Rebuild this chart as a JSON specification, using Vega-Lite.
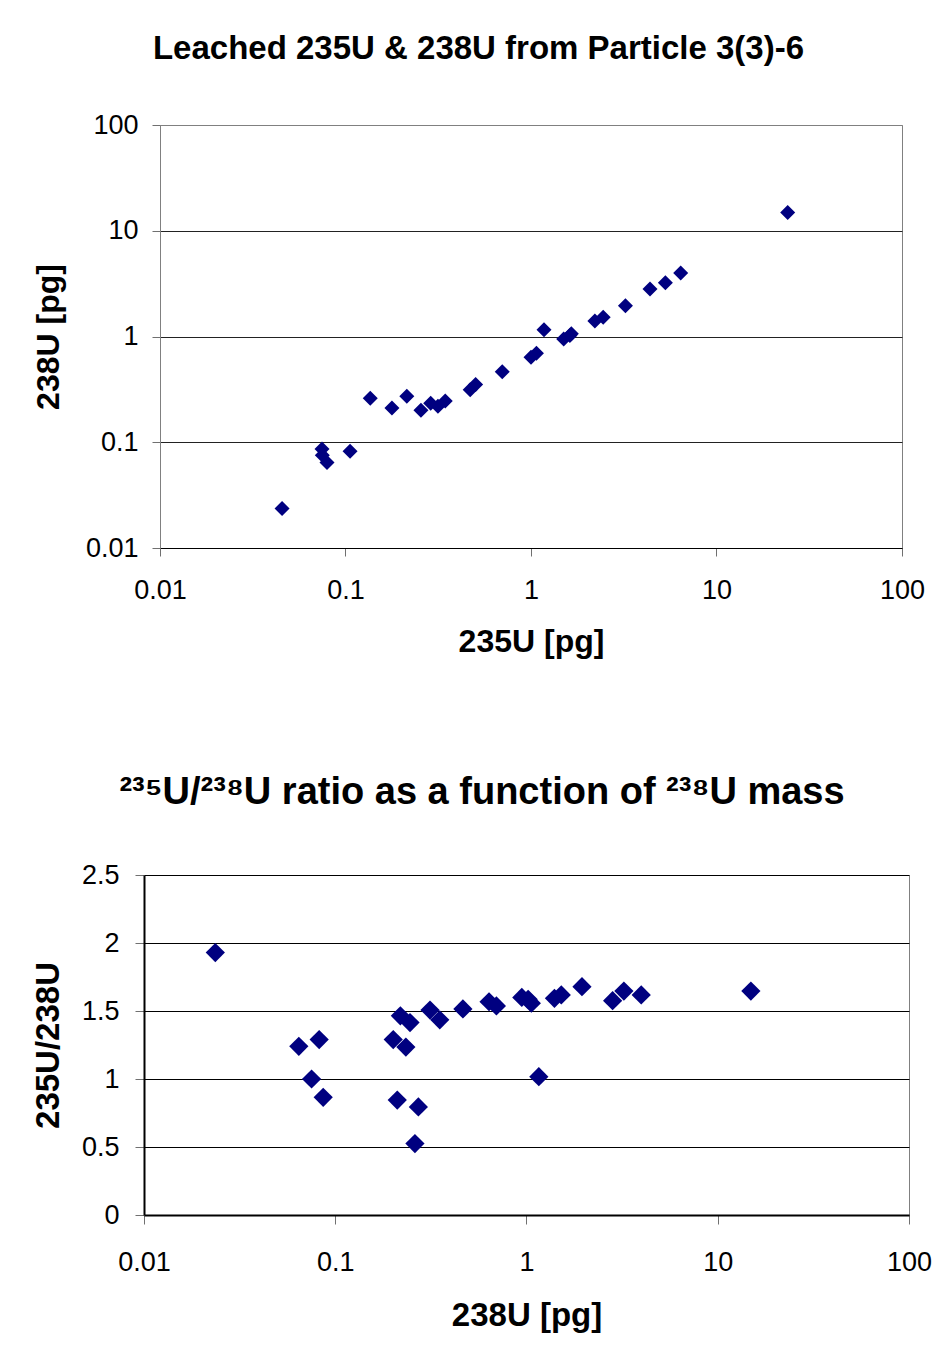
{
  "$schema": "https://vega.github.io/schema/vega-lite/v6.json",
  "background": "white",
  "padding": {"left": 30, "top": 32, "right": 0, "bottom": 0},
  "spacing": 115,
  "config": {
    "font": "Liberation Sans",
    "view": {"stroke": "#808080", "strokeWidth": 1},
    "axis": {
      "labelFont": "Liberation Sans",
      "labelFontSize": 27,
      "labelColor": "black",
      "labelFlush": false,
      "labelOverlap": false,
      "labelBound": false,
      "titleFont": "Liberation Sans",
      "titleFontSize": 32,
      "titleFontWeight": "bold",
      "titleColor": "black",
      "domainWidth": 1,
      "tickWidth": 1,
      "gridWidth": 1,
      "tickColor": "#707070"
    },
    "title": {"font": "Liberation Sans", "fontWeight": "bold", "color": "black", "anchor": "middle", "frame": "bounds"}
  },
  "datasets": {
    "none": [],
    "points": [
      {"u235": 0.0455, "u238": 0.0236, "ratio": 1.93},
      {"u235": 0.0747, "u238": 0.0865, "ratio": 0.865},
      {"u235": 0.075, "u238": 0.0752, "ratio": 1.0},
      {"u235": 0.0795, "u238": 0.0645, "ratio": 1.24},
      {"u235": 0.1058, "u238": 0.0824, "ratio": 1.29},
      {"u235": 0.136, "u238": 0.261, "ratio": 0.525},
      {"u235": 0.178, "u238": 0.211, "ratio": 0.845},
      {"u235": 0.214, "u238": 0.272, "ratio": 0.795},
      {"u235": 0.255, "u238": 0.201, "ratio": 1.29},
      {"u235": 0.288, "u238": 0.234, "ratio": 1.235},
      {"u235": 0.315, "u238": 0.219, "ratio": 1.465},
      {"u235": 0.345, "u238": 0.246, "ratio": 1.415},
      {"u235": 0.47, "u238": 0.313, "ratio": 1.507},
      {"u235": 0.503, "u238": 0.352, "ratio": 1.435},
      {"u235": 0.7, "u238": 0.465, "ratio": 1.515},
      {"u235": 1.0, "u238": 0.637, "ratio": 1.568},
      {"u235": 1.07, "u238": 0.696, "ratio": 1.537},
      {"u235": 1.175, "u238": 1.16, "ratio": 1.017},
      {"u235": 1.5, "u238": 0.945, "ratio": 1.6},
      {"u235": 1.62, "u238": 1.02, "ratio": 1.586},
      {"u235": 1.65, "u238": 1.06, "ratio": 1.557},
      {"u235": 2.21, "u238": 1.4, "ratio": 1.593},
      {"u235": 2.45, "u238": 1.52, "ratio": 1.618},
      {"u235": 3.23, "u238": 1.95, "ratio": 1.679},
      {"u235": 4.38, "u238": 2.82, "ratio": 1.576},
      {"u235": 5.3, "u238": 3.23, "ratio": 1.647},
      {"u235": 6.41, "u238": 3.98, "ratio": 1.618},
      {"u235": 24.2, "u238": 14.9, "ratio": 1.647}
    ]
  },
  "vconcat": [
    {
      "spacing": 0,
      "hconcat": [
        {
          "width": 1, "height": 1,
          "data": {"name": "none"},
          "view": {"stroke": null},
          "mark": {"type": "point", "opacity": 0},
          "encoding": {}
        },
        {
          "width": 742,
          "height": 423,
          "data": {"name": "points"},
          "title": {"text": "Leached 235U & 238U from Particle 3(3)-6", "fontSize": 33, "offset": 45},
          "mark": {"type": "point", "shape": "diamond", "filled": true, "size": 225, "color": "#000080", "opacity": 1},
          "encoding": {
            "x": {
              "field": "u235", "type": "quantitative",
              "scale": {"type": "log", "domain": [0.01, 100], "nice": false},
              "axis": {"title": "235U [pg]", "values": [0.01, 0.1, 1, 10, 100], "format": "~g", "grid": false,
                       "domainColor": "black", "tickSize": 8, "labelPadding": 21, "titlePadding": 23}
            },
            "y": {
              "field": "u238", "type": "quantitative",
              "scale": {"type": "log", "domain": [0.01, 100], "nice": false},
              "axis": {"title": "238U [pg]", "values": [0.01, 0.1, 1, 10, 100], "format": "~g", "grid": true,
                       "gridColor": {"condition": {"test": "datum.value >= 100", "value": "#808080"}, "value": "#222222"},
                       "domainColor": "#808080", "tickSize": 8, "labelPadding": 14, "titlePadding": 20}
            }
          }
        }
      ]
    },
    {
      "spacing": 0,
      "hconcat": [
        {
          "width": 1, "height": 1,
          "data": {"name": "none"},
          "view": {"stroke": null},
          "mark": {"type": "point", "opacity": 0},
          "encoding": {}
        },
        {
          "width": 765,
          "height": 340,
          "data": {"name": "points"},
          "title": {"text": "²³⁵U/²³⁸U ratio as a function of ²³⁸U mass", "fontSize": 38, "offset": 49},
          "mark": {"type": "point", "shape": "diamond", "filled": true, "size": 370, "color": "#000080", "opacity": 1},
          "encoding": {
            "x": {
              "field": "u238", "type": "quantitative",
              "scale": {"type": "log", "domain": [0.01, 100], "nice": false},
              "axis": {"title": "238U [pg]", "titleFontSize": 33, "values": [0.01, 0.1, 1, 10, 100], "format": "~g", "grid": false,
                       "domainColor": "black", "domainWidth": 2, "tickSize": 9, "labelPadding": 25, "titlePadding": 24}
            },
            "y": {
              "field": "ratio", "type": "quantitative",
              "scale": {"domain": [0, 2.5], "nice": false},
              "axis": {"title": "235U/238U", "titleFontSize": 33, "values": [0, 0.5, 1, 1.5, 2, 2.5], "format": "~g", "grid": true,
                       "gridColor": "black", "domainColor": "black", "domainWidth": 2, "tickSize": 9, "labelPadding": 16, "titlePadding": 16}
            }
          }
        }
      ]
    }
  ]
}
